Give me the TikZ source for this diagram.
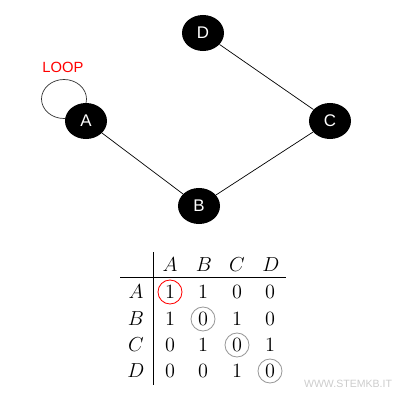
\documentclass[tikz,border=0pt]{standalone}
\usepackage{fontspec}
\setsansfont{Liberation Sans}
\usetikzlibrary{shapes.geometric, backgrounds}
\tikzstyle{vertex} = [ellipse, fill=black, inner sep=0pt, minimum width=1.05cm, minimum height=0.9cm, text=white, font=\sffamily\fontsize{12}{14}\selectfont]
\tikzstyle{edge} = [line width=0.5pt, black]
\tikzstyle{entry} = [inner sep=0pt, minimum size=0.6cm, font=\fontsize{14}{16}\selectfont]
\tikzstyle{diag} = [entry, circle, draw=black!40, line width=0.6pt]

\begin{document}
\begin{tikzpicture}[x=0.025cm, y=-0.025cm]
\useasboundingbox (0,0) rectangle (407,400);
% graph
\node(D)[vertex] at (203,33){D};
\node(A)[vertex] at (86,121){A};
\node(C)[vertex] at (330,121){C};
\node(B)[vertex] at (199,206){B};
\draw[edge] (A) -- (B);
\draw[edge] (B) -- (C);
\draw[edge] (C) -- (D);
\begin{scope}[on background layer]
\draw[black!80, line width=0.5pt] ([shift={(-22,-22)}]A.center) ellipse (22.5 and 19.5);
\end{scope}
\node(loop)[text=red, font=\sffamily\fontsize{10.5}{12}\selectfont] at (63,67){LOOP};

% adjacency matrix
\node(hA)[entry] at (170,265){$A$};
\node(hB)[entry] at (204,265){$B$};
\node(hC)[entry] at (237,265){$C$};
\node(hD)[entry] at (271,265){$D$};
\node(rA)[entry] at (136,292){$A$};
\node(rB)[entry] at (136,319){$B$};
\node(rC)[entry] at (136,345){$C$};
\node(rD)[entry] at (136,371){$D$};
\node(m11)[diag, draw=red] at (170,292){$1$};
\node(m12)[entry] at (203,292){$1$};
\node(m13)[entry] at (237,292){$0$};
\node(m14)[entry] at (270,292){$0$};
\node(m21)[entry] at (170,319){$1$};
\node(m22)[diag] at (203,319){$0$};
\node(m23)[entry] at (237,319){$1$};
\node(m24)[entry] at (270,319){$0$};
\node(m31)[entry] at (170,345){$0$};
\node(m32)[entry] at (203,345){$1$};
\node(m33)[diag] at (237,345){$0$};
\node(m34)[entry] at (270,345){$1$};
\node(m41)[entry] at (170,371){$0$};
\node(m42)[entry] at (203,371){$0$};
\node(m43)[entry] at (237,371){$1$};
\node(m44)[diag] at (270,371){$0$};
\draw[line width=0.5pt] (153,252) -- (153,385);
\draw[line width=0.5pt] (120,277) -- (286,277);

\node(mark)[text=black!20, font=\sffamily\fontsize{7.5}{9}\selectfont] at (348,384){WWW.STEMKB.IT};
\end{tikzpicture}
\end{document}
